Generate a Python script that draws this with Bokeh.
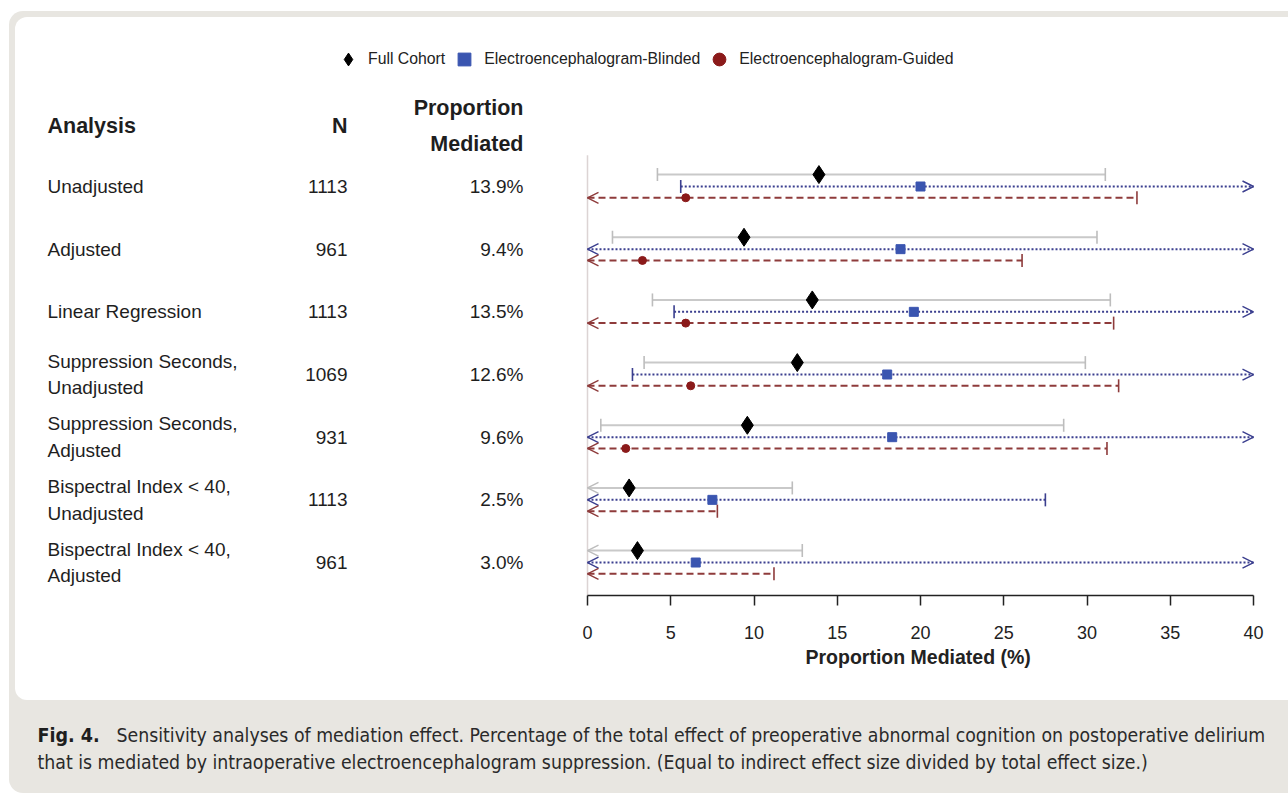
import numpy as np
from bokeh.plotting import figure
from bokeh.models import (Range1d, LinearAxis, FixedTicker, ColumnDataSource, Arrow,
                          OpenHead, Legend, LegendItem, Title)
from bokeh.layouts import column
from bokeh.core.properties import value
from bokeh.embed import file_html
from bokeh.resources import INLINE

# ---------------- data ----------------
analyses = ["Unadjusted", "Adjusted", "Linear Regression",
            "Suppression Seconds,\nUnadjusted", "Suppression Seconds,\nAdjusted",
            "Bispectral Index < 40,\nUnadjusted", "Bispectral Index < 40,\nAdjusted"]
n_values = [1113, 961, 1113, 1069, 931, 1113, 961]
prop_labels = ["13.9%", "9.4%", "13.5%", "12.6%", "9.6%", "2.5%", "3.0%"]

NEG = float("-inf")   # interval runs off the left of the axis
POS = float("inf")    # interval runs off the right of the axis
NA = float("nan")     # point estimate off scale (not shown)

full_est = [13.9, 9.4, 13.5, 12.6, 9.6, 2.5, 3.0]
full_lo = [4.2, 1.5, 3.9, 3.4, 0.8, NEG, NEG]
full_hi = [31.1, 30.6, 31.4, 29.9, 28.6, 12.3, 12.9]

blind_est = [20.0, 18.8, 19.6, 18.0, 18.3, 7.5, 6.5]
blind_lo = [5.6, NEG, 5.2, 2.7, NEG, NEG, NEG]
blind_hi = [POS, POS, POS, POS, POS, 27.5, POS]

guided_est = [5.9, 3.3, 5.9, 6.2, 2.3, NA, NA]
guided_lo = [NEG, NEG, NEG, NEG, NEG, NEG, NEG]
guided_hi = [33.0, 26.1, 31.6, 31.9, 31.2, 7.8, 11.2]

x_ticks = [0, 5, 10, 15, 20, 25, 30, 35, 40]
legend_labels = ["Full Cohort", "Electroencephalogram-Blinded", "Electroencephalogram-Guided"]
header_labels = ["Analysis", "N", "Proportion\nMediated"]
axis_title = "Proportion Mediated (%)"
caption_bold = "Fig. 4."
caption_lines = ["Sensitivity analyses of mediation effect. Percentage of the total effect of preoperative abnormal cognition on postoperative delirium",
                 "that is mediated by intraoperative electroencephalogram suppression. (Equal to indirect effect size divided by total effect size.)"]

# ---------------- layout geometry ----------------
X_MIN, X_MAX = 0, 40
W, H = 1273, 683
PX_PER_X = 666 / 40.0
ZERO_PX = 572
PX_PER_ROW = 62.67
ROW0_PX = 169
FRAME_H = 578
GREY = "#e8e6e1"

FONT = "Liberation Sans"
TXT = "#1e1e1e"

p = figure(width=W, height=H, output_backend="svg", toolbar_location=None,
           x_axis_type=None, y_axis_type=None,
           x_range=Range1d(-ZERO_PX / PX_PER_X, (W - ZERO_PX) / PX_PER_X),
           y_range=Range1d((FRAME_H - ROW0_PX) / PX_PER_ROW, -ROW0_PX / PX_PER_ROW),
           min_border_left=0, min_border_right=0, min_border_top=0, min_border_bottom=105)
p.grid.visible = False
p.outline_line_color = None
p.background_fill_alpha = 0
p.border_fill_alpha = 0
p.margin = (6, 0, 0, 6)
p.styles = {"background-color": "white", "border-radius": "12px 0 0 12px"}

rows = list(range(len(analyses)))

# zero reference line
p.segment(x0=[0], y0=[-0.5], x1=[0], y1=[(FRAME_H - ROW0_PX) / PX_PER_ROW],
          line_color="#dcd4d4", line_width=1.5)


def draw_series(est, lo, hi, dy, color, dash, cap_color, marker, size, mcolor):
    ys = [r + dy for r in rows]
    x0 = [max(v, X_MIN) for v in lo]
    x1 = [min(v, X_MAX) for v in hi]
    p.segment(x0=x0, y0=ys, x1=x1, y1=ys, line_color=color, line_width=2, line_dash=dash)
    cx, cy = [], []
    for v, y in zip(lo, ys):
        if X_MIN <= v <= X_MAX:
            cx.append(v); cy.append(y)
    for v, y in zip(hi, ys):
        if X_MIN <= v <= X_MAX:
            cx.append(v); cy.append(y)
    p.scatter(cx, cy, marker="dash", angle=np.pi / 2, size=13,
              line_color=cap_color, line_width=1.6)
    ax_s, ax_e, ay = [], [], []
    for v, y in zip(lo, ys):
        if v < X_MIN:
            ax_s.append(X_MIN + 0.5); ax_e.append(X_MIN); ay.append(y)
    for v, y in zip(hi, ys):
        if v > X_MAX:
            ax_s.append(X_MAX - 0.5); ax_e.append(X_MAX); ay.append(y)
    if ax_s:
        src = ColumnDataSource(dict(xs=ax_s, xe=ax_e, y=ay))
        p.add_layout(Arrow(end=OpenHead(size=11, line_color=cap_color, line_width=1.4),
                           source=src, x_start="xs", y_start="y", x_end="xe", y_end="y",
                           line_alpha=0))
    return p.scatter(est, ys, marker=marker, size=size, fill_color=mcolor, line_color=mcolor)


r_full = draw_series(full_est, full_lo, full_hi, -0.19, "#c9c9c9", "solid", "#bdbdbd",
                     "diamond", 18, "black")
r_blind = draw_series(blind_est, blind_lo, blind_hi, 0.0, "#3b3f8f", "2 2", "#3b3f8f",
                      "square", 9, "#3a55b0")
r_guided = draw_series(guided_est, guided_lo, guided_hi, 0.18, "#8e3b3b", "7 4", "#8e3b3b",
                       "circle", 8, "#8b1a1a")

# table text
COL_LABEL = (47 - 587) / PX_PER_X
COL_N = (347 - 587) / PX_PER_X
COL_P = (523 - 587) / PX_PER_X
HDR_Y = -0.96

p.text(x=[COL_LABEL] * len(rows), y=rows, text=analyses, text_font=value(FONT),
       text_font_size="19px", text_align="left", text_baseline="middle",
       text_color=TXT, text_line_height=1.27)
p.text(x=[COL_N] * len(rows), y=rows, text=[str(v) for v in n_values], text_font=value(FONT),
       text_font_size="19px", text_align="right", text_baseline="middle", text_color=TXT)
p.text(x=[COL_P] * len(rows), y=rows, text=prop_labels, text_font=value(FONT),
       text_font_size="19px", text_align="right", text_baseline="middle", text_color=TXT)
p.text(x=[COL_LABEL, COL_N, COL_P], y=[HDR_Y, HDR_Y, HDR_Y], text=header_labels,
       text_font=value(FONT), text_font_size="21.5px", text_font_style="bold",
       text_align=["left", "right", "right"], text_baseline="middle", text_color=TXT,
       text_line_height=1.5)

# axis
ax = LinearAxis(bounds=(X_MIN, X_MAX), ticker=FixedTicker(ticks=x_ticks))
ax.axis_line_color = "#222222"
ax.axis_line_width = 1.5
ax.major_tick_line_color = "#222222"
ax.major_tick_line_width = 1.5
ax.major_tick_out = 10
ax.major_tick_in = 0
ax.minor_tick_out = 0
ax.minor_tick_in = 0
ax.major_label_standoff = 20
ax.major_label_text_font = FONT
ax.major_label_text_font_size = "18px"
ax.major_label_text_color = "#222222"
p.add_layout(ax, "below")
p.add_layout(Title(text=axis_title, align="left", offset=790, text_font=FONT,
                   text_font_size="19.5px", text_font_style="bold", text_color="#222222",
                   standoff=5), "below")

legend = Legend(items=[LegendItem(label=legend_labels[0], renderers=[r_full]),
                       LegendItem(label=legend_labels[1], renderers=[r_blind]),
                       LegendItem(label=legend_labels[2], renderers=[r_guided])],
                orientation="horizontal", location=(317, 520), glyph_width=32,
                glyph_height=32, label_standoff=4, spacing=3, padding=0, margin=0,
                background_fill_alpha=0, border_line_alpha=0,
                label_text_font=FONT, label_text_font_size="15.8px", label_text_color="#222222")
p.add_layout(legend)

# caption
CW, CH = 1279, 93
cap = figure(width=CW, height=CH, output_backend="svg", toolbar_location=None,
             x_axis_type=None, y_axis_type=None, x_range=Range1d(0, CW), y_range=Range1d(CH, 0),
             min_border=0)
cap.grid.visible = False
cap.outline_line_color = None
cap.background_fill_alpha = 0
cap.border_fill_alpha = 0
CAP_FONT = "DejaVu Sans Condensed"
cap.text(x=[28], y=[35], text=[caption_bold], text_font=value(CAP_FONT), text_font_size="19.5px",
         text_font_style="bold", text_baseline="middle", text_color="#1e1e1e")
cap.text(x=[107, 28], y=[35, 62], text=caption_lines, text_font=value(CAP_FONT),
         text_font_size="19.3px", text_baseline="middle", text_color="#2a2a2a")

layout = column(p, cap, margin=(11, 0, 0, 9),
                styles={"background-color": GREY, "border-radius": "14px 0 0 14px"})

open("out.html", "w").write(file_html(layout, INLINE))
